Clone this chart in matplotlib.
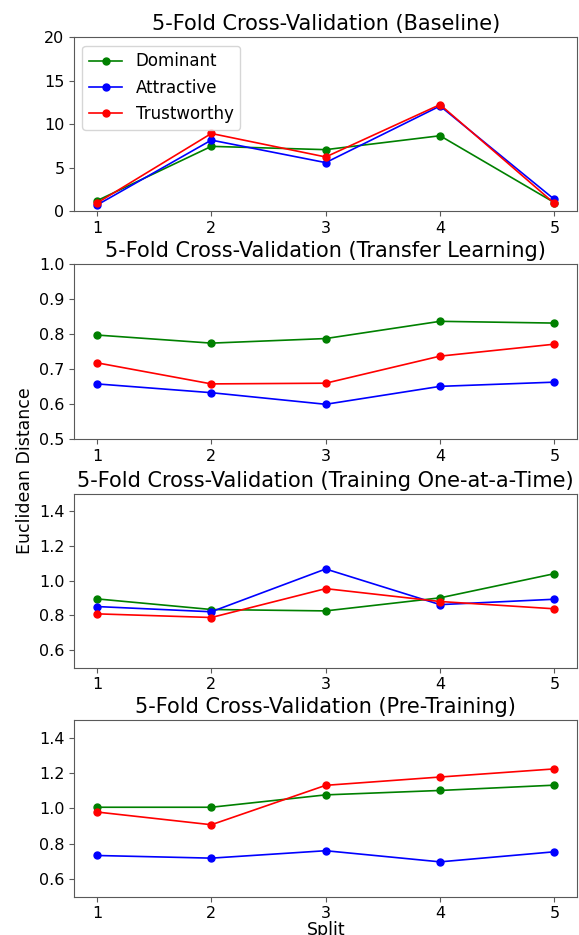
import numpy as np
import matplotlib.pyplot as plt

splits = [1, 2, 3, 4, 5]

titles = [
    "5-Fold Cross-Validation (Baseline)",
    "5-Fold Cross-Validation (Transfer Learning)",
    "5-Fold Cross-Validation (Training One-at-a-Time)",
    "5-Fold Cross-Validation (Pre-Training)",
]

# Dominant / Attractive / Trustworthy per experiment
baseline_dom = [1.22, 7.47, 7.09, 8.69, 1.0]
baseline_att = [0.72, 8.19, 5.6, 12.11, 1.37]
baseline_tru = [0.95, 8.95, 6.25, 12.27, 0.91]

transfer_dom = [0.797, 0.774, 0.787, 0.836, 0.831]
transfer_att = [0.658, 0.633, 0.600, 0.651, 0.663]
transfer_tru = [0.718, 0.658, 0.660, 0.737, 0.771]

oneatime_dom = [0.895, 0.834, 0.826, 0.901, 1.04]
oneatime_att = [0.851, 0.821, 1.067, 0.862, 0.893]
oneatime_tru = [0.809, 0.788, 0.954, 0.880, 0.838]

pretrain_dom = [1.006, 1.006, 1.076, 1.101, 1.131]
pretrain_att = [0.733, 0.718, 0.760, 0.697, 0.754]
pretrain_tru = [0.979, 0.907, 1.130, 1.177, 1.223]

series = [
    (baseline_dom, baseline_att, baseline_tru),
    (transfer_dom, transfer_att, transfer_tru),
    (oneatime_dom, oneatime_att, oneatime_tru),
    (pretrain_dom, pretrain_att, pretrain_tru),
]
ylims = [(0, 20), (0.5, 1.0), (0.5, 1.5), (0.5, 1.5)]
yticks = [
    [0, 5, 10, 15, 20],
    [0.5, 0.6, 0.7, 0.8, 0.9, 1.0],
    [0.6, 0.8, 1.0, 1.2, 1.4],
    [0.6, 0.8, 1.0, 1.2, 1.4],
]
names = ["Dominant", "Attractive", "Trustworthy"]
colors = ["green", "blue", "red"]

fig = plt.figure(figsize=(5.79, 9.35), dpi=100)
rects = [
    [0.128, 0.774, 0.869, 0.186],
    [0.128, 0.530, 0.869, 0.188],
    [0.128, 0.286, 0.869, 0.186],
    [0.128, 0.041, 0.869, 0.189],
]

for i in range(4):
    ax = fig.add_axes(rects[i])
    for vals, name, c in zip(series[i], names, colors):
        ax.plot(splits, vals, marker="o", color=c, label=name,
                markersize=5, linewidth=1.2)
    ax.set_ylim(*ylims[i])
    ax.set_yticks(yticks[i])
    ax.set_xticks(splits)
    ax.tick_params(labelsize=11.5, color="0.35")
    for s in ax.spines.values():
        s.set_edgecolor("0.35")
    ax.set_title(titles[i], fontsize=15, pad=5)
    if i == 0:
        ax.legend(loc="upper left", fontsize=12)
    if i == 3:
        ax.set_xlabel("Split", fontsize=12.5, labelpad=0)

fig.text(0.043, 0.497, "Euclidean Distance", rotation=90,
         ha="center", va="center", fontsize=12.5)

plt.savefig("out.png", dpi=100)
